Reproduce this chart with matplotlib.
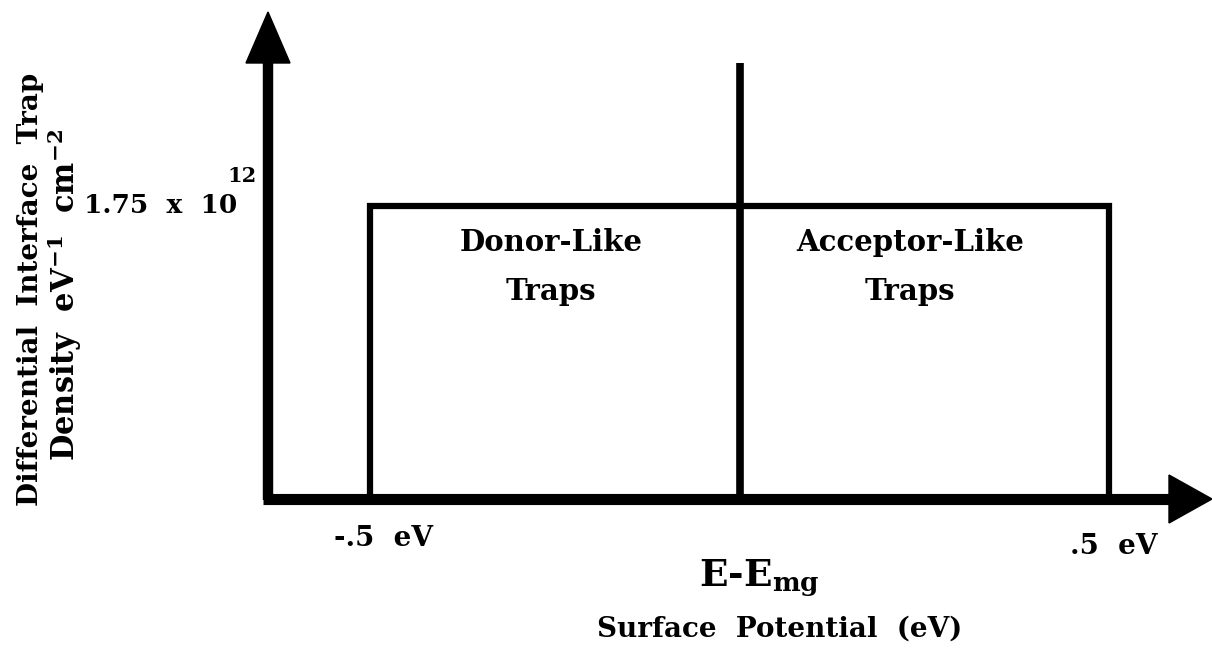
#Sketch of the interface trap distribution (donor-like / acceptor-like)
import matplotlib
matplotlib.use('Agg')
import matplotlib.pyplot as plt

#data
band_edges = [-0.5, 0.5]          #eV, limits of the trap band
midgap = 0.0                      #E - Emg = 0
trap_density = 1.75               #x 10^12 eV^-1 cm^-2
density_label = "1.75  x  10"
density_exp = "12"
edge_labels = ["-.5  eV", ".5  eV"]
region_labels = [["Donor-Like", "Traps"], ["Acceptor-Like", "Traps"]]

plt.rcParams['font.family'] = 'DejaVu Serif'
plt.rcParams['font.weight'] = 'bold'
plt.rcParams['mathtext.fontset'] = 'dejavuserif'
plt.rcParams['mathtext.default'] = 'bf'

W, H = 1212, 648
fig = plt.figure(figsize=(W/100, H/100), dpi=100)
ax = fig.add_axes([0, 0, 1, 1])

#pixel <-> data scale (x: 739 px per eV, y: 167.4 px per 1e12)
x0_px, xs = 739.5, 739.0
y0_px, ys = 499.0, 167.4
ax.set_xlim((0 - x0_px)/xs, (W - x0_px)/xs)
ax.set_ylim((y0_px - H)/ys, y0_px/ys)
ax.axis('off')

def dx(px):
    return (px - x0_px)/xs

def dy(py):
    return (y0_px - py)/ys

#axes with arrows
yaxis_x = dx(268)
ax.plot([yaxis_x, yaxis_x], [dy(500), dy(60)], color='k', lw=7.5, solid_capstyle='butt')
ax.fill([dx(268-22), dx(268), dx(268+22)], [dy(63), dy(12), dy(63)], color='k')
ax.plot([dx(263), dx(1172)], [0, 0], color='k', lw=8, solid_capstyle='butt')
ax.fill([dx(1169), dx(1212), dx(1169)], [dy(499-24), 0, dy(499+24)], color='k')

#trap band box and midgap line
xl, xr = band_edges
ax.plot([xl, xl, xr, xr], [0, trap_density, trap_density, 0], color='k', lw=4.5,
        solid_joinstyle='miter')
ax.plot([midgap, midgap], [0, dy(63)], color='k', lw=5.5, solid_capstyle='butt')

#region labels (text sits a little left of the half centre in the original)
shift = [-4, -14]
for (xa, xb), lines, s in zip([(xl, midgap), (midgap, xr)], region_labels, shift):
    xc = (xa + xb)/2 + s/xs
    ax.text(xc, dy(251), lines[0], ha='center', va='baseline', fontsize=21)
    ax.text(xc, dy(300), lines[1], ha='center', va='baseline', fontsize=21)

#density value on the y axis
ax.text(dx(237), dy(213), density_label, ha='right', va='baseline', fontsize=19)
ax.text(dx(227), dy(182), density_exp, ha='left', va='baseline', fontsize=15)

#edge labels under the x axis
ax.text(xl + dx(383) - dx(370), dy(546), edge_labels[0], ha='center', va='baseline', fontsize=20)
ax.text(xr + dx(1114) - dx(1109), dy(554), edge_labels[1], ha='center', va='baseline', fontsize=20)

#x axis titles
ax.text(dx(699), dy(585), r"E-E$_{\mathbf{mg}}$", ha='left', va='baseline', fontsize=27)
ax.text(dx(780), dy(637), "Surface  Potential  (eV)", ha='center', va='baseline', fontsize=20)

#y axis titles
ax.text(dx(30), dy(289), "Differential  Interface  Trap", rotation=90,
        ha='center', va='center', fontsize=20)
ax.text(dx(64), dy(295), r"Density  eV$^{-1}$  cm$^{-2}$", rotation=90,
        ha='center', va='center', fontsize=22)

fig.savefig('out.png', dpi=100, facecolor='white')
